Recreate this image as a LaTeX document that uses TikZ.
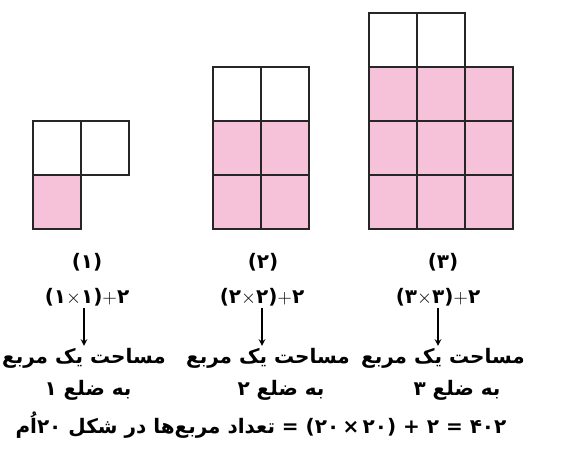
\documentclass[tikz,border=0pt]{standalone}
\usepackage{fontspec}
\usetikzlibrary{positioning,arrows}
\TeXXeTstate=1
\newfontfamily\fafont[Script=Arabic]{DejaVu Sans}
\newfontfamily\numfont{DejaVu Sans}
\definecolor{cellpink}{RGB}{246,194,217}

\begin{document}
\begin{tikzpicture}[
  x=0.75pt,y=-0.75pt,
  >=stealth,
  line width=1.2pt,
  cell/.style={draw=black!85},
  shaded/.style={cell,fill=cellpink},
  every node/.style={font=\fafont\bfseries\fontsize{15}{18}\selectfont,inner sep=1pt},
  digits/.style={font=\numfont\bfseries\fontsize{15}{18}\selectfont},
  pointer/.style={->,line width=1.2pt}
]%
  \useasboundingbox (0,0) rectangle (571,454);

  % first figure
  \foreach \i in {0,1}
    \draw[cell] (33+48*\i,121) rectangle ++(48,54);
  \draw[shaded] (33,175) rectangle ++(48,54);

  % second figure
  \foreach \i in {0,1}{
    \draw[cell] (213+48*\i,67) rectangle ++(48,54);
    \foreach \j in {1,2}
      \draw[shaded] (213+48*\i,67+54*\j) rectangle ++(48,54);
  }

  % third figure
  \foreach \i in {0,1}
    \draw[cell] (369+48*\i,13) rectangle ++(48,54);
  \foreach \i in {0,1,2}
    \foreach \j in {1,2,3}
      \draw[shaded] (369+48*\i,13+54*\j) rectangle ++(48,54);

  % labels
  \node[digits] (num1) at (87,262) {(۱)};
  \node[digits] (num2) at (263,262) {(۲)};
  \node[digits] (num3) at (443,262) {(۳)};

  \node[digits] (expr1) at (87,297) {(۱$\times$۱)$+$۲};
  \node[digits] (expr2) at (262,297) {(۲$\times$۲)$+$۲};
  \node[digits] (expr3) at (438,297) {(۳$\times$۳)$+$۲};

  \node (area1) at (84,358) {\beginR مساحت یک مربع\endR};
  \node (area2) at (268,358) {\beginR مساحت یک مربع\endR};
  \node (area3) at (443,358) {\beginR مساحت یک مربع\endR};

  \node (side1) at (88,390) {\beginR به ضلع {\numfont ۱}\endR};
  \node (side2) at (281,390) {\beginR به ضلع {\numfont ۲}\endR};
  \node (side3) at (457,390) {\beginR به ضلع {\numfont ۳}\endR};

  \draw[pointer] (expr1.south -| area1) -- (area1.north);
  \draw[pointer] (expr2.south) -- (expr2.south |- area2.north);
  \draw[pointer] (expr3.south) -- (expr3.south |- area3.north);

  \node (rule) at (261,425) {\beginR تعداد مربع‌ها در شکل {\numfont ۲۰}اُم\endR{\numfont\ =\ (۲۰\,×\,۲۰)\ +\ ۲\ =\ ۴۰۲}};
\end{tikzpicture}
\end{document}
